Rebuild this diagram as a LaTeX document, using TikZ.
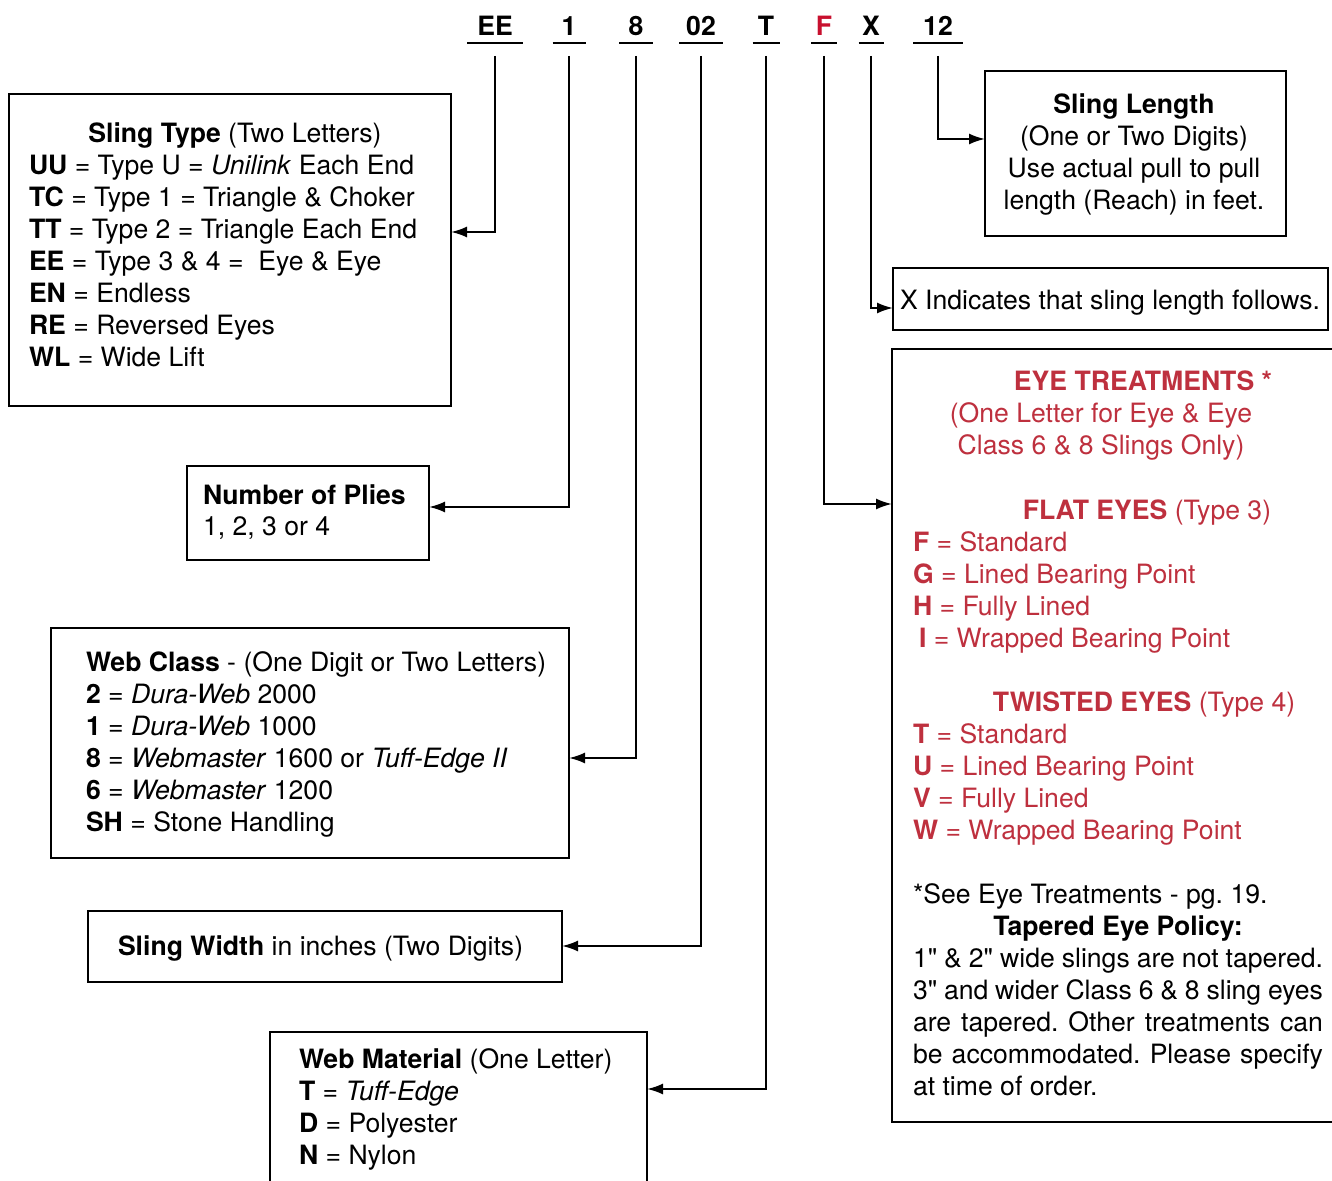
\documentclass[tikz,border=0pt]{standalone}
\usepackage{fontspec}
\setmainfont{TeX Gyre Heros}[Ligatures=TeXOff]
\usetikzlibrary{arrows.meta}

\definecolor{eyered}{RGB}{190,48,62}
\definecolor{codered}{RGB}{200,16,46}

\tikzset{
  box/.style={draw, line width=1.2pt, inner sep=0pt, outer sep=0pt, anchor=north west},
  txt/.style={font=\fontsize{13.3}{16}\selectfont, inner sep=0pt, align=left, xshift=-1pt, yshift=-1pt},
  code/.style={font=\fontsize{13.3}{16}\selectfont\bfseries, text depth=0pt, inner xsep=0pt, inner ysep=3pt, anchor=base},
}

\begin{document}
\frenchspacing
\begin{tikzpicture}[x=0.5pt,y=-0.5pt,>={Latex[length=8pt,width=5.5pt]},line width=1pt]
\useasboundingbox (0,0) rectangle (1332,1181);

% the code letters across the top
\node (ee) [code, minimum width=27pt] at (495,36) {EE};
\node (one) [code, minimum width=15.5pt] at (569,36) {1};
\node (eight) [code, minimum width=16pt] at (636,36) {8};
\node (wid) [code, minimum width=21pt] at (701,36) {02};
\node (mat) [code, minimum width=12.5pt] at (766,36) {T};
\node (eye) [code, minimum width=12pt, text=codered] at (824,36) {F};
\node (xx) [code, minimum width=11.5pt] at (871,36) {X};
\node (len) [code, minimum width=24pt] at (938,36) {12};
\foreach \c in {ee,one,eight,wid,mat,eye,xx,len}
  \draw (\c.south west) -- (\c.south east);

% boxes
\node (stype) [box, minimum width=221pt, minimum height=156pt] at (9,94) {};
\node (plies) [box, minimum width=121pt, minimum height=47pt] at (187,466) {};
\node (wclass) [box, minimum width=259pt, minimum height=115pt] at (51,628) {};
\node (swidth) [box, minimum width=237pt, minimum height=35.5pt] at (88,911) {};
\node (wmat) [box, minimum width=188.5pt, minimum height=81.5pt] at (270,1032) {};
\node (slength) [box, minimum width=150.5pt, minimum height=82.5pt] at (985,71) {};
\node (xind) [box, minimum width=217.5pt, minimum height=31pt] at (893,268) {};
\node (eyes) [box, minimum width=226.5pt, minimum height=386.5pt] at (892,349) {};

% connectors
\draw [->] ([yshift=-6.5pt]ee.south) |- (stype.east |- 0,232);
\draw [->] ([yshift=-6.5pt]one.south) |- (plies.east |- 0,507);
\draw [->] ([yshift=-6.5pt]eight.south) |- (wclass.east |- 0,758);
\draw [->] ([yshift=-6.5pt]wid.south) |- (swidth.east |- 0,946);
\draw [->] ([yshift=-6.5pt]mat.south) |- (wmat.east |- 0,1089);
\draw [->] ([yshift=-6.5pt]eye.south) |- (eyes.west |- 0,504);
\draw [->] ([yshift=-6.5pt]xx.south) |- (xind.west |- 0,308);
\draw [->] ([yshift=-6.5pt]len.south) |- (slength.west |- 0,139);

% sling type (multi-line nodes sit on their last line)
\node [txt, anchor=base] at (237,141) {\textbf{Sling Type} (Two Letters)};
\node [txt, anchor=base west] at (30,365) {\textbf{UU} = Type U = \textit{Unilink} Each End\\
\textbf{TC} = Type 1 = Triangle \& Choker\\
\textbf{TT} = Type 2 = Triangle Each End\\
\textbf{EE} = Type 3 \& 4 = ~Eye \& Eye\\
\textbf{EN} = Endless\\
\textbf{RE} = Reversed Eyes\\
\textbf{WL} = Wide Lift};

% plies
\node [txt, anchor=base west] at (204,534) {\textbf{Number of Plies}\\1, 2, 3 or 4};

% web class
\node [txt, anchor=base west] at (87,829) {\textbf{Web Class} - (One Digit or Two Letters)\\
\textbf{2} = \textit{Dura-Web} 2000\\
\textbf{1} = \textit{Dura-Web} 1000\\
\textbf{8} = \textit{Webmaster} 1600 or \textit{Tuff-Edge II}\\
\textbf{6} = \textit{Webmaster} 1200\\
\textbf{SH} = Stone Handling};

% width
\node [txt, anchor=base west] at (119,953) {\textbf{Sling Width} in inches (Two Digits)};

% material
\node [txt, anchor=base west] at (300,1162) {\textbf{Web Material} (One Letter)\\
\textbf{T} = \textit{Tuff-Edge}\\
\textbf{D} = Polyester\\
\textbf{N} = Nylon};

% length
\node [txt, anchor=base, align=center] at (1136,208) {\textbf{Sling Length}\\(One or Two Digits)\\Use actual pull to pull\\length (Reach) in feet.};

% x
\node [txt, anchor=base west] at (901,308) {X Indicates that sling length follows.};

% eye treatments
\node [txt, anchor=base, text=eyered] at (1145,389) {\textbf{EYE TREATMENTS *}};
\node [txt, anchor=base, align=center, text=eyered] at (1103,453) {(One Letter for Eye \& Eye\\Class 6 \& 8 Slings Only)};
\node [txt, anchor=base, text=eyered] at (1149,517) {\textbf{FLAT EYES} (Type 3)};
\node [txt, anchor=base west, text=eyered] at (914,645) {\textbf{F} = Standard\\
\textbf{G} = Lined Bearing Point\\
\textbf{H} = Fully Lined\\
\hspace*{3pt}\textbf{I} = Wrapped Bearing Point};
\node [txt, anchor=base, text=eyered] at (1146,709) {\textbf{TWISTED EYES} (Type 4)};
\node [txt, anchor=base west, text=eyered] at (914,837) {\textbf{T} = Standard\\
\textbf{U} = Lined Bearing Point\\
\textbf{V} = Fully Lined\\
\textbf{W} = Wrapped Bearing Point};
\node [txt, anchor=base west] at (914,901) {*See Eye Treatments - pg. 19.};
\node [txt, anchor=base] at (1120,933) {\textbf{Tapered Eye Policy:}};
\node [txt, anchor=base west, text width=205pt, align=justify] at (914,965) {1" \& 2" wide slings are not tapered.\linebreak
3" and wider Class 6 \& 8 sling eyes\linebreak
are tapered. Other treatments can\linebreak
be accommodated. Please specify\linebreak
at time of order.};

\end{tikzpicture}
\end{document}
